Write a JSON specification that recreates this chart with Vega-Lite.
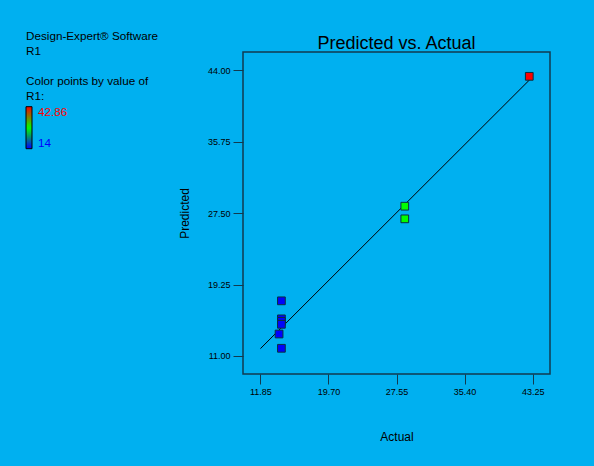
{
  "$schema": "https://vega.github.io/schema/vega-lite/v6.json",
  "autosize": "none",
  "width": 307,
  "height": 322,
  "padding": {"left": 243, "top": 52, "right": 44, "bottom": 92},
  "background": "#00B0F0",
  "title": {"text": "Predicted vs. Actual", "frame": "group", "font": "Liberation Sans", "fontSize": 18, "fontWeight": "normal", "color": "#000000", "offset": 4, "dy": 26, "anchor": "middle"},
  "config": {
    "view": {"stroke": "#123a4f", "strokeWidth": 1.5},
    "axis": {"labelFont": "Liberation Sans", "titleFont": "Liberation Sans", "labelColor": "#000000", "titleColor": "#000000", "tickColor": "#123a4f", "grid": false, "domain": false, "labelFontSize": 9, "titleFontSize": 12, "titleFontWeight": "normal", "tickSize": 10}
  },
  "datasets": {
    "pts": [
      {"Actual": 42.86, "Predicted": 43.3, "R1": 42.86},
      {"Actual": 28.5, "Predicted": 28.3, "R1": 28.5},
      {"Actual": 28.5, "Predicted": 26.84, "R1": 28.5},
      {"Actual": 14.27, "Predicted": 17.37, "R1": 14.27},
      {"Actual": 14.27, "Predicted": 15.29, "R1": 14.27},
      {"Actual": 14.27, "Predicted": 15.0, "R1": 14.27},
      {"Actual": 14.27, "Predicted": 14.66, "R1": 14.27},
      {"Actual": 14.0, "Predicted": 13.54, "R1": 14.0},
      {"Actual": 14.27, "Predicted": 11.89, "R1": 14.27}
    ],
    "fit": [
      {"Actual": 11.85, "Predicted": 11.85},
      {"Actual": 43.25, "Predicted": 43.25}
    ]
  },
  "layer": [
    {
      "data": {"name": "fit"},
      "mark": {"type": "line", "color": "#000000", "strokeWidth": 1},
      "encoding": {
        "x": {"field": "Actual", "type": "quantitative"},
        "y": {"field": "Predicted", "type": "quantitative"}
      }
    },
    {
      "data": {"name": "pts"},
      "mark": {"type": "square", "filled": true, "size": 60, "stroke": "#0a3040", "strokeWidth": 1, "opacity": 1},
      "encoding": {
        "x": {
          "field": "Actual", "type": "quantitative",
          "scale": {"domain": [9.84, 45.25], "nice": false, "zero": false},
          "axis": {"values": [11.85, 19.7, 27.55, 35.4, 43.25], "format": ".2f", "title": "Actual", "titlePadding": 35, "labelPadding": 3}
        },
        "y": {
          "field": "Predicted", "type": "quantitative",
          "scale": {"domain": [8.92, 46.11], "nice": false, "zero": false},
          "axis": {"values": [11, 19.25, 27.5, 35.75, 44], "format": ".2f", "title": "Predicted", "titlePadding": 16, "labelPadding": 3}
        },
        "color": {
          "field": "R1", "type": "quantitative",
          "scale": {"domain": [14, 42.86], "range": ["#0000ff", "#00ff00", "#ff0000"], "interpolate": "rgb"},
          "legend": {
            "orient": "none", "legendX": -217, "legendY": -21,
            "title": ["Design-Expert® Software", "R1", "\u2800", "Color points by value of", "R1:"],
            "titleFont": "Liberation Sans", "titleFontSize": 11.7, "titleFontWeight": "normal", "titleColor": "#000000", "titleLineHeight": 15, "titlePadding": 4,
            "direction": "vertical", "gradientLength": 42, "gradientThickness": 6, "gradientStrokeColor": "#000000", "gradientStrokeWidth": 1,
            "values": [14, 42.86], "labelExpr": "toString(datum.value)",
            "labelFont": "Liberation Sans", "labelFontSize": 11.7, "labelOffset": 6,
            "labelColor": {"expr": "datum.value > 20 ? '#ff0000' : '#0000ff'"}
          }
        }
      }
    }
  ]
}
